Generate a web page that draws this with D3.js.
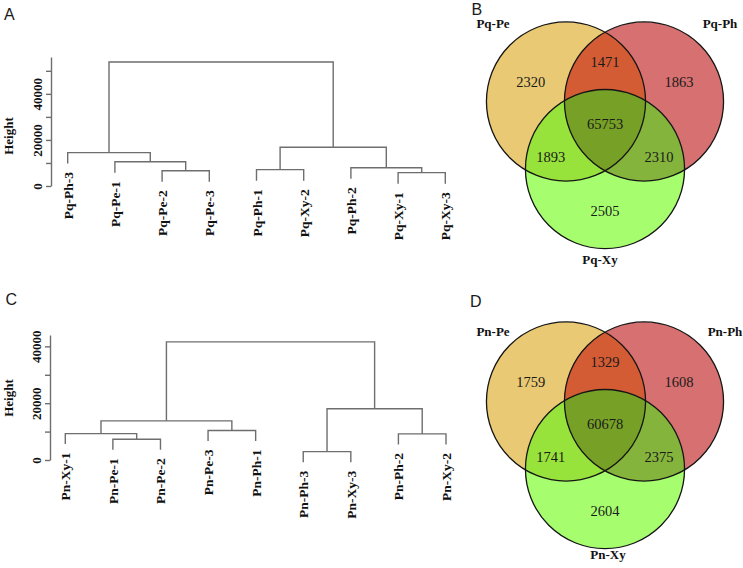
<!DOCTYPE html>
<html><head><meta charset="utf-8">
<script src="https://cdn.jsdelivr.net/npm/d3@7/dist/d3.min.js"></script>
<style>body{margin:0;background:#fff}svg{display:block}</style>
</head><body>
<script>
// ---------- Panel A : dendrogram (hclust style: merge pairs + heights) ----------
const leavesA = ["Pq-Ph-3","Pq-Pe-1","Pq-Pe-2","Pq-Pe-3","Pq-Ph-1","Pq-Xy-2","Pq-Ph-2","Pq-Xy-1","Pq-Xy-3"];
const mergeA  = [[-8,-9],[-3,-4],[-5,-6],[-7,1],[-2,2],[-1,5],[3,4],[6,7]];
const heightA = [5800,6650,7100,7950,10550,14500,16800,53800];
const ticksA = [0,10000,20000,30000,40000,50000];
const tickLabelsA = [0,20000,40000];

// ---------- Panel C : dendrogram ----------
const leavesC = ["Pn-Xy-1","Pn-Pe-1","Pn-Pe-2","Pn-Pe-3","Pn-Ph-1","Pn-Ph-3","Pn-Xy-3","Pn-Ph-2","Pn-Xy-2"];
const mergeC  = [[-6,-7],[-2,-3],[-8,-9],[-1,2],[-4,-5],[4,5],[1,3],[6,7]];
const heightC = [2940,7300,9190,9300,10360,13780,18020,41590];
const ticksC = [0,10000,20000,30000,40000];
const tickLabelsC = [0,20000,40000];

// ---------- Panels B and D : Venn diagrams ----------
const setsB = ["Pq-Pe","Pq-Ph","Pq-Xy"];
// order: Pe only, Ph only, Xy only, Pe&Ph, Pe&Xy, Ph&Xy, all three
const countsB = [2320,1863,2505,1471,1893,2310,65753];
const setsD = ["Pn-Pe","Pn-Ph","Pn-Xy"];
const countsD = [1759,1608,2604,1329,1741,2375,60678];

const W = 743, H = 568;
const svg = d3.select("body").append("svg").attr("width",W).attr("height",H);
const serif = "'Liberation Serif','Times New Roman',serif";
const lineCol = "#6e6e6e";

function drawDendro(cfg){
  const g = svg.append("g");
  const x = d3.scalePoint().domain(cfg.leaves).range(cfg.xRange);
  const y = d3.scaleLinear().domain(cfg.yDomain).range(cfg.yRange);
  const nodeX = [], nodeH = [];
  const childX = c => c < 0 ? x(cfg.leaves[-c-1]) : nodeX[c-1];
  cfg.merge.forEach((m,i)=>{
    nodeX[i] = (childX(m[0]) + childX(m[1]))/2;
    nodeH[i] = cfg.heights[i];
  });
  cfg.merge.forEach((m,i)=>{
    const yh = y(cfg.heights[i]);
    const bottom = c => c < 0 ? yh + cfg.hang : y(nodeH[c-1]);
    const p = d3.path();
    p.moveTo(childX(m[0]), bottom(m[0]));
    p.lineTo(childX(m[0]), yh);
    p.lineTo(childX(m[1]), yh);
    p.lineTo(childX(m[1]), bottom(m[1]));
    g.append("path").attr("d",p.toString()).attr("fill","none")
      .attr("stroke",lineCol).attr("stroke-width",1.4);
    m.forEach(c=>{
      if(c<0){
        const lx = x(cfg.leaves[-c-1]);
        g.append("text")
          .attr("transform",`translate(${lx+5},${yh+cfg.hang+8.5}) rotate(-90)`)
          .attr("text-anchor","end")
          .attr("font-family",serif).attr("font-weight","bold").attr("font-size",13.5)
          .attr("fill","#111").text(cfg.leaves[-c-1]);
      }
    });
  });
  const ax = d3.axisLeft(y).tickValues(cfg.ticks).tickSize(5).tickSizeOuter(0)
    .tickFormat(d => cfg.tickLabels.includes(d) ? d : "");
  const ag = g.append("g").attr("transform",`translate(${cfg.axisX},0)`).call(ax);
  ag.select(".domain").attr("stroke",lineCol).attr("stroke-width",1.4);
  ag.selectAll(".tick line").attr("stroke",lineCol).attr("stroke-width",1.4);
  ag.selectAll(".tick text")
    .attr("x",null).attr("dy",null)
    .attr("transform","translate(-9.5,0) rotate(-90)")
    .attr("text-anchor","middle")
    .attr("font-family",serif).attr("font-weight","bold").attr("font-size",13)
    .attr("fill","#111");
  g.append("text").attr("transform",`translate(12.5,${cfg.ylabY}) rotate(-90)`)
    .attr("text-anchor","middle").attr("font-family",serif).attr("font-weight","bold")
    .attr("font-size",13).attr("fill","#111").text("Height");
}

drawDendro({leaves:leavesA, merge:mergeA, heights:heightA, ticks:ticksA, tickLabels:tickLabelsA,
  xRange:[67.7,445.3], yDomain:[0,56000], yRange:[186,57], axisX:51, hang:11, ylabY:136});
drawDendro({leaves:leavesC, merge:mergeC, heights:heightC, ticks:ticksC, tickLabels:tickLabelsC,
  xRange:[65.3,446], yDomain:[0,44000], yRange:[460,335], axisX:50, hang:10.5, ylabY:398});

// ---------- Venn ----------
const regionFills = ["#E9C973","#D77070","#A6FE6F","#D45C35","#98E23C","#85B43D","#77A027"];
function drawVenn(cfg){
  const id = cfg.id;
  const g = svg.append("g");
  const sx = d3.scaleLinear().domain([-1,1]).range([cfg.cx-78, cfg.cx+78]);
  const sy = d3.scaleLinear().domain([-1,1]).range([cfg.cy-78, cfg.cy+78]);
  const r = sx(1.02) - sx(0);
  const centers = [[-0.5,-0.2887],[0.5,-0.2887],[0,0.5774]].map(([u,v])=>[sx(u),sy(v)]);
  const defs = svg.append("defs");
  centers.forEach((c,i)=>{
    defs.append("clipPath").attr("id",`${id}c${i}`)
      .append("circle").attr("cx",c[0]).attr("cy",c[1]).attr("r",r);
  });
  const circ = (parent,i,fill)=>parent.append("circle").attr("cx",centers[i][0]).attr("cy",centers[i][1])
      .attr("r",r).attr("fill",fill);
  circ(g,0,regionFills[0]); circ(g,1,regionFills[1]); circ(g,2,regionFills[2]);
  circ(g.append("g").attr("clip-path",`url(#${id}c0)`),1,regionFills[3]);
  circ(g.append("g").attr("clip-path",`url(#${id}c0)`),2,regionFills[4]);
  circ(g.append("g").attr("clip-path",`url(#${id}c1)`),2,regionFills[5]);
  circ(g.append("g").attr("clip-path",`url(#${id}c0)`).append("g").attr("clip-path",`url(#${id}c1)`),2,regionFills[6]);
  centers.forEach((c,i)=>g.append("circle").attr("cx",c[0]).attr("cy",c[1]).attr("r",r)
      .attr("fill","none").attr("stroke","#151515").attr("stroke-width",1.3));
  const cen = [sx(0), sy(0)];
  const pos = [
    [centers[0][0]-35.3, centers[0][1]-19.3],
    [centers[1][0]+35, centers[1][1]-19.3],
    [centers[2][0], centers[2][1]+41.7],
    [cen[0], cen[1]-62],
    [cen[0]-54.3, cen[1]+33],
    [cen[0]+54, cen[1]+33],
    [cen[0], cen[1]]
  ];
  cfg.counts.forEach((v,i)=>{
    g.append("text").attr("x",pos[i][0]).attr("y",pos[i][1]).attr("dy","0.35em")
      .attr("text-anchor","middle").attr("font-family",serif).attr("font-size",14.5)
      .attr("fill","#1a1a1a").text(v);
  });
  cfg.sets.forEach((s,i)=>{
    g.append("text").attr("x",cfg.labelPos[i][0]).attr("y",cfg.labelPos[i][1])
      .attr("text-anchor","middle").attr("font-family",serif).attr("font-weight","bold")
      .attr("font-size",13).attr("fill","#111").text(s);
  });
}
drawVenn({id:"vb", cx:605, cy:124, sets:setsB, counts:countsB,
  labelPos:[[493,28],[720,28],[600,263.5]]});
drawVenn({id:"vd", cx:605, cy:424, sets:setsD, counts:countsD,
  labelPos:[[493,335.5],[725,335.5],[608,558.5]]});

const letters = [["A",4,20],["B",471.5,15],["C",5.5,305],["D",470,306.5]];
letters.forEach(([t,lx,ly])=>svg.append("text").attr("x",lx).attr("y",ly)
  .attr("font-family","'Liberation Sans',Arial,sans-serif").attr("font-size",16)
  .attr("fill","#1a1a1a").text(t));
</script>
</body></html>
